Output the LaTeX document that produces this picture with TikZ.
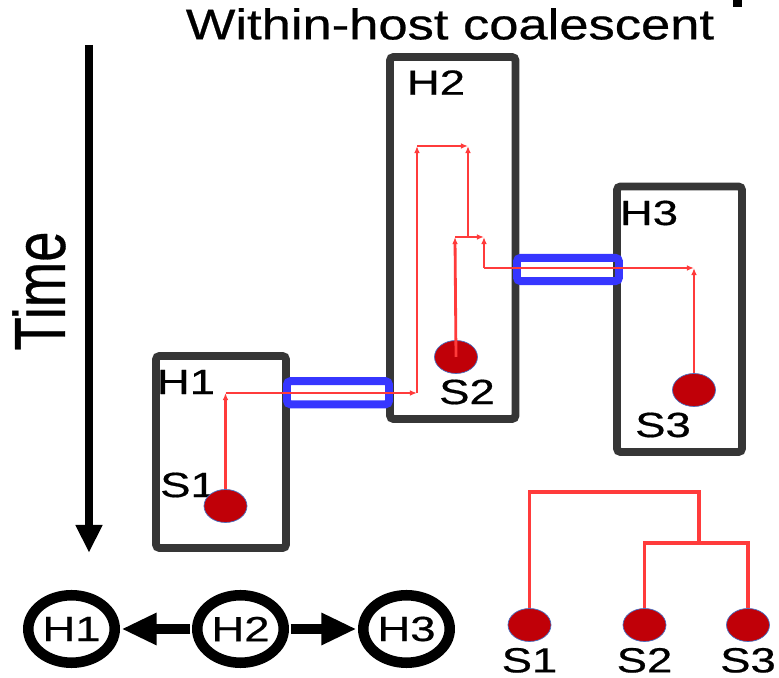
\documentclass[tikz,border=0pt]{standalone}
\usepackage{fontspec}
\setmainfont{Liberation Sans}[FakeBold=0.5]
\usetikzlibrary{arrows.meta, positioning, shapes.geometric}
\definecolor{chost}{HTML}{363636}
\definecolor{cred}{HTML}{FF3B3B}
\definecolor{cdot}{HTML}{C00008}
\definecolor{cring}{HTML}{4A6FC0}
\definecolor{cblue}{HTML}{3636FF}
\tikzset{
  every picture/.style={line width=1.3pt},
  hostbox/.style={draw=chost, line width=4.5pt, rounded corners=2pt, inner sep=0pt},
  bar/.style={draw=cblue, line width=4.5pt, rounded corners=2pt, inner sep=0pt, minimum width=2.04cm, minimum height=0.465cm},
  sample/.style={ellipse, fill=cdot, draw=cring, line width=0.4pt, inner sep=0pt, minimum width=0.86cm, minimum height=0.66cm},
  lab/.style={font=\fontsize{19.9pt}{20pt}\selectfont, inner sep=0pt, xscale=1.3},
  titletext/.style={font=\fontsize{24.5pt}{25pt}\selectfont, inner sep=0pt, xscale=1.22},
  timetext/.style={font=\fontsize{31pt}{31pt}\selectfont, inner sep=0pt, rotate=90, yscale=1.33},
  timeline/.style={draw=black, line width=4.5pt, -{Triangle[length=0.56cm, width=0.5cm]}},
  lineage/.style={draw=cred, line width=1.6pt, -{Latex[length=4pt, width=3.2pt]}},
  tree/.style={draw=cred, line width=1.8pt},
  hostnode/.style={ellipse, draw=black, line width=6pt, lab, minimum width=1.33cm, minimum height=1.35cm},
  spread/.style={draw=black, line width=5.7pt, -{Triangle[length=0.7cm, width=0.6cm]}, shorten >=0pt},
}
\begin{document}
\begin{tikzpicture}[x=0.02cm, y=-0.02cm]
  \useasboundingbox (0,0) rectangle (779,678);
  \node[titletext] (title) at (450,24) {Within-host coalescent};
  \fill (733,0) rectangle (742,7);
  % time axis
  \node[timetext] (time) at (39,291) {Time};
  \coordinate (t0) at (89,45);
  \coordinate (t1) at (89,553);
  \draw[timeline] (t0) -- (t1);
  % hosts
  \node[hostbox, minimum width=2.6cm, minimum height=3.84cm] (h1) at (221,452) {};
  \node[hostbox, minimum width=2.51cm, minimum height=7.24cm] (h2) at (452.75,238) {};
  \node[hostbox, minimum width=2.5cm, minimum height=5.31cm] (h3) at (679.5,319.25) {};
  \node[lab] (h1l) at (186,382) {H1};
  \node[lab] (h2l) at (436,82.5) {H2};
  \node[lab] (h3l) at (649,213) {H3};
  % transmission windows
  \node[bar] (b12) at (338,392.75) {};
  \node[bar] (b23) at (568,269.5) {};
  % samples
  \node[lab] (s1l) at (188,485) {S1};
  \node[lab] (s2l) at (467,392) {S2};
  \node[lab] (s3l) at (663,425) {S3};
  \node[sample] (s1) at (225.5,506) {};
  \node[sample] (s2) at (456,357) {};
  \node[sample] (s3) at (694,390) {};
  % lineages
  \coordinate (m1) at (s1.north |- 0,393);
  \coordinate (k1) at (417,393);
  \coordinate (k2) at (417,146);
  \coordinate (c12) at (468,146);
  \coordinate (j1) at (455,237);
  \coordinate (j2) at (484,237);
  \coordinate (j0) at (468,237);
  \coordinate (m2) at (484,268);
  \coordinate (k3) at (s3.north |- 0,268);
  \foreach \a/\b in {s1.north/m1, m1/k1, k1/k2, k2/c12, s2.center/j1, j1/j2, j0/c12, m2/j2, m2/k3, s3.north/k3}
    \draw[lineage] (\a) -- (\b);
  % transmission tree
  \node[hostnode] (g1) at (71.5,629) {H1};
  \node[hostnode] (g2) at (240.5,629) {H2};
  \node[hostnode] (g3) at (406.5,629) {H3};
  \draw[spread] (g2) -- (g1);
  \draw[spread] (g2) -- (g3);
  % genealogy
  \node[sample] (d1) at (529.5,625) {};
  \node[sample] (d2) at (644.5,625) {};
  \node[sample] (d3) at (748,625) {};
  \node[lab, below=0.1cm of d1] (d1l) {S1};
  \node[lab, below=0.1cm of d2] (d2l) {S2};
  \node[lab, below=0.1cm of d3] (d3l) {S3};
  \coordinate (r0) at (699,492);
  \coordinate (r1) at (699,543);
  \draw[tree] (d1.north) |- (r0) -- (r1);
  \draw[tree] (d2.north) |- (r1) -| (d3.north);
\end{tikzpicture}
\end{document}
